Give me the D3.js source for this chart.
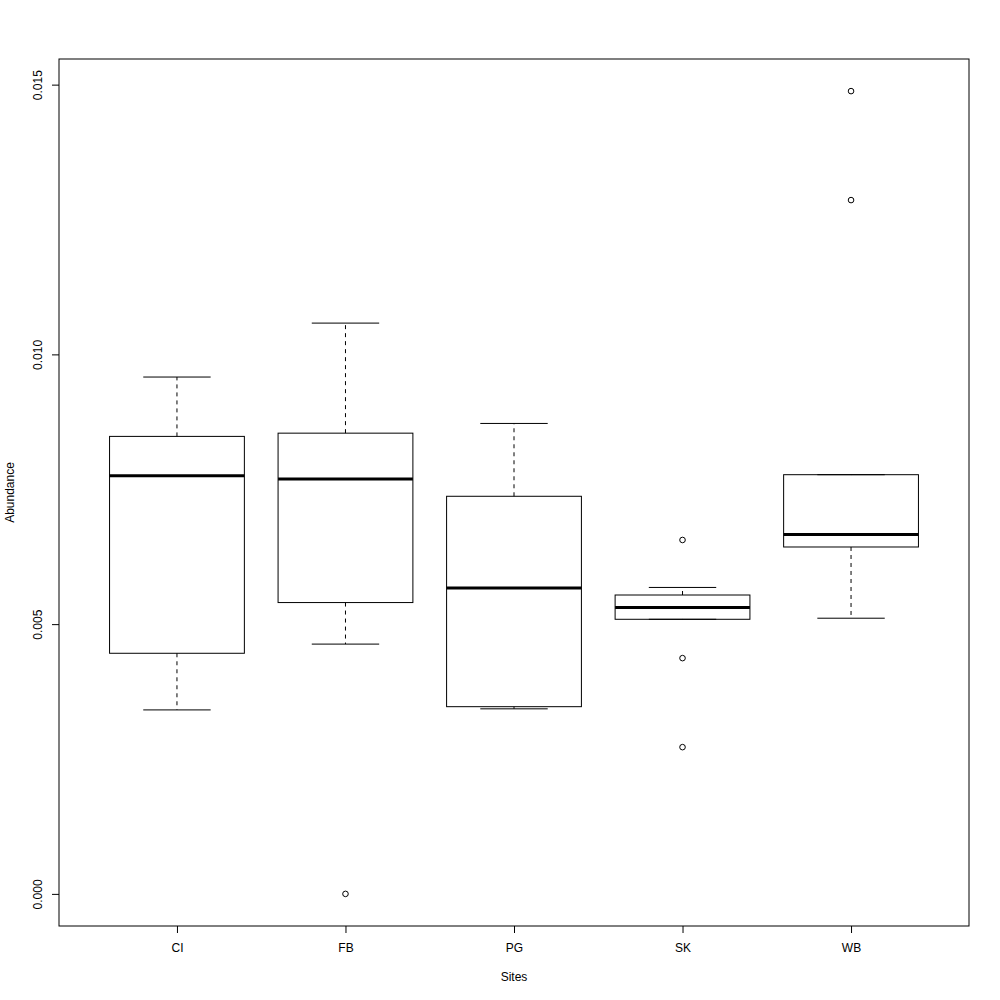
<!DOCTYPE html>
<html>
<head>
<meta charset="utf-8">
<script src="https://cdn.jsdelivr.net/npm/d3@7"></script>
<style>
  body { margin: 0; background: #fff; }
  svg { display: block; }
  text { font-family: "Liberation Sans", Arial, Helvetica, sans-serif; fill: #000; }
</style>
</head>
<body>
<svg id="chart" width="1000" height="1000"></svg>
<script>
const sites = ["CI", "FB", "PG", "SK", "WB"];
const whiskerLow  = [0.00341, 0.00463, 0.00343, 0.00509, 0.00511];
const q1          = [0.00446, 0.00540, 0.00347, 0.00509, 0.00643];
const medians     = [0.00775, 0.00769, 0.00567, 0.00531, 0.00666];
const q3          = [0.00848, 0.00854, 0.00737, 0.00554, 0.00777];
const whiskerHigh = [0.00958, 0.01058, 0.00872, 0.00568, 0.00777];
const outliers    = [[], [0.0], [], [0.00656, 0.00437, 0.00272], [0.01488, 0.01286]];
const yTicks = [0, 0.005, 0.010, 0.015];

(function () {
const svg = d3.select("#chart");
const pLeft = 59, pRight = 969, pTop = 59, pBottom = 926;

const allVals = whiskerLow.concat(whiskerHigh, outliers.flat());
const lo = d3.min(allVals), hi = d3.max(allVals);
const ext = (hi - lo) * 0.04;

const y = d3.scaleLinear().domain([lo - ext, hi + ext]).range([pBottom, pTop]);
const x = d3.scalePoint().domain(sites).range([pLeft, pRight]).padding(0.7);
const step = x.step();
const boxW = step * 0.8;
const capW = boxW * 0.5;

const data = sites.map((s, i) => ({
  site: s, lo: whiskerLow[i], q1: q1[i], med: medians[i], q3: q3[i], hi: whiskerHigh[i], out: outliers[i]
}));

const g = svg.append("g");
const boxes = g.selectAll("g.box").data(data).join("g").attr("class", "box");

// whiskers (dashed)
boxes.append("line")
  .attr("x1", d => x(d.site)).attr("x2", d => x(d.site))
  .attr("y1", d => y(d.q3)).attr("y2", d => y(d.hi))
  .attr("stroke", "#000").attr("stroke-width", 1).attr("stroke-dasharray", "4,4");
boxes.append("line")
  .attr("x1", d => x(d.site)).attr("x2", d => x(d.site))
  .attr("y1", d => y(d.q1)).attr("y2", d => y(d.lo))
  .attr("stroke", "#000").attr("stroke-width", 1).attr("stroke-dasharray", "4,4");
// caps
boxes.append("line")
  .attr("x1", d => x(d.site) - capW / 2).attr("x2", d => x(d.site) + capW / 2)
  .attr("y1", d => y(d.hi)).attr("y2", d => y(d.hi))
  .attr("stroke", "#000").attr("stroke-width", 1);
boxes.append("line")
  .attr("x1", d => x(d.site) - capW / 2).attr("x2", d => x(d.site) + capW / 2)
  .attr("y1", d => y(d.lo)).attr("y2", d => y(d.lo))
  .attr("stroke", "#000").attr("stroke-width", 1);
// box
boxes.append("rect")
  .attr("x", d => x(d.site) - boxW / 2).attr("width", boxW)
  .attr("y", d => y(d.q3)).attr("height", d => y(d.q1) - y(d.q3))
  .attr("fill", "none").attr("stroke", "#000").attr("stroke-width", 1);
// median
boxes.append("line")
  .attr("x1", d => x(d.site) - boxW / 2).attr("x2", d => x(d.site) + boxW / 2)
  .attr("y1", d => y(d.med)).attr("y2", d => y(d.med))
  .attr("stroke", "#000").attr("stroke-width", 3);
// outliers
boxes.selectAll("circle").data(d => d.out.map(v => ({ site: d.site, v })))
  .join("circle")
  .attr("cx", d => x(d.site)).attr("cy", d => y(d.v)).attr("r", 2.8)
  .attr("fill", "none").attr("stroke", "#000").attr("stroke-width", 1);

// frame
svg.append("rect").attr("x", pLeft).attr("y", pTop)
  .attr("width", pRight - pLeft).attr("height", pBottom - pTop)
  .attr("fill", "none").attr("stroke", "#000").attr("stroke-width", 1);

// y axis
const yAxis = svg.append("g").attr("transform", `translate(${pLeft},0)`)
  .call(d3.axisLeft(y).tickValues(yTicks).tickFormat(d3.format(".3f")).tickSize(7).tickPadding(0));
yAxis.select(".domain").remove();
yAxis.selectAll(".tick line").attr("stroke", "#000");
yAxis.selectAll(".tick text")
  .attr("transform", "rotate(-90)")
  .attr("x", 0).attr("y", -21).attr("dy", "0.35em")
  .attr("text-anchor", "middle")
  .style("font-size", "12px").style("font-family", "'Liberation Sans', Arial, sans-serif");

// x axis
const xAxis = svg.append("g").attr("transform", `translate(0,${pBottom})`)
  .call(d3.axisBottom(x).tickSize(7).tickPadding(0));
xAxis.select(".domain").remove();
xAxis.selectAll(".tick line").attr("stroke", "#000");
xAxis.selectAll(".tick text")
  .attr("y", 22).attr("dy", "0.35em")
  .style("font-size", "12px").style("font-family", "'Liberation Sans', Arial, sans-serif");

// axis titles
svg.append("text").attr("x", (pLeft + pRight) / 2).attr("y", 977).attr("dy", "0.35em")
  .attr("text-anchor", "middle").style("font-size", "12px").text("Sites");
svg.append("text").attr("transform", `translate(10,${(pTop + pBottom) / 2}) rotate(-90)`)
  .attr("dy", "0.35em").attr("text-anchor", "middle").style("font-size", "12px").text("Abundance");
})();
</script>
</body>
</html>
